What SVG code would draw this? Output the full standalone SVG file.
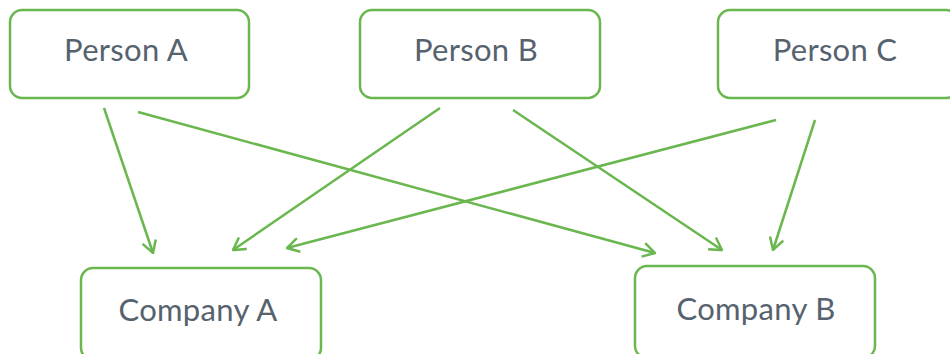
<svg xmlns="http://www.w3.org/2000/svg" width="950" height="354" viewBox="0 0 950 354">
<style>
.box{fill:#fff;stroke:#6ab64f;stroke-width:2.5}
.lbl{font-family:Lato,"Noto Sans",sans-serif;font-size:31px;letter-spacing:0.3px;fill:#56626d;text-anchor:middle}
.edge{stroke:#6ab64f;stroke-width:2.5;fill:none;marker-end:url(#ah)}
</style>
<defs>
<marker id="ah" viewBox="0 0 14 16" refX="13" refY="8" markerWidth="14" markerHeight="16" markerUnits="userSpaceOnUse" orient="auto">
<path d="M1,1 L13,8 L1,15" fill="none" stroke="#6ab64f" stroke-width="2.5"/>
</marker>
</defs>
<rect width="950" height="354" fill="#fff"/>
<g id="edges">
<line class="edge" x1="104" y1="108" x2="153" y2="253"/>
<line class="edge" x1="138" y1="112" x2="655" y2="253"/>
<line class="edge" x1="440" y1="108" x2="233" y2="250"/>
<line class="edge" x1="513" y1="110" x2="722" y2="250"/>
<line class="edge" x1="776" y1="120" x2="287" y2="248"/>
<line class="edge" x1="815" y1="120" x2="773" y2="250"/>
</g>
<g id="personA"><rect class="box" x="10" y="10" width="239" height="88" rx="12"/><text class="lbl" x="126" y="61">Person A</text></g>
<g id="personB"><rect class="box" x="360" y="10" width="240" height="88" rx="12"/><text class="lbl" x="476" y="61">Person B</text></g>
<g id="personC"><rect class="box" x="718" y="10" width="240" height="88" rx="12"/><text class="lbl" x="835" y="61">Person C</text></g>
<g id="companyA"><rect class="box" x="81" y="268" width="240" height="92" rx="12"/><text class="lbl" x="198" y="321">Company A</text></g>
<g id="companyB"><rect class="box" x="635" y="266" width="240" height="92" rx="12"/><text class="lbl" x="756" y="320">Company B</text></g>
</svg>
